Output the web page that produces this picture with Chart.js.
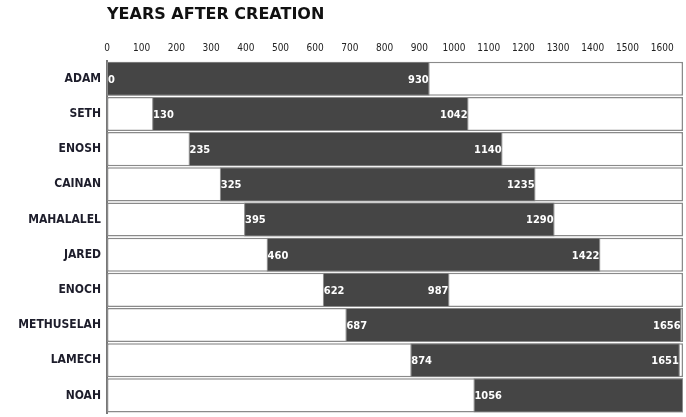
<!DOCTYPE html>
<html>
<head>
<meta charset="utf-8">
<script src="https://cdn.jsdelivr.net/npm/chart.js@4.4.1/dist/chart.umd.min.js"></script>
<style>
    html, body { margin: 0; padding: 0; background: #fff; overflow: hidden; }
    canvas { display: block; }
</style>
</head>
<body>
<canvas id="lifespanChart" width="686" height="417"></canvas>
<script>
// Patriarchs, birth and death in years after creation
const names = ['ADAM', 'SETH', 'ENOSH', 'CAINAN', 'MAHALALEL', 'JARED', 'ENOCH', 'METHUSELAH', 'LAMECH', 'NOAH'];
const births = [0, 130, 235, 325, 395, 460, 622, 687, 874, 1056];
const deaths = [930, 1042, 1140, 1235, 1290, 1422, 987, 1656, 1651, null];
const tickValues = [0, 100, 200, 300, 400, 500, 600, 700, 800, 900, 1000, 1100, 1200, 1300, 1400, 1500, 1600];
const axisMax = 1660;

const narrow = "'DejaVu Sans Condensed', 'Liberation Sans Narrow', 'DejaVu Sans', sans-serif";

document.addEventListener('DOMContentLoaded', function() {
    const ctx = document.getElementById('lifespanChart');

    // Noah runs off the right edge of the chart
    const spans = births.map((b, i) => [b, deaths[i] === null ? axisMax : deaths[i]]);
    const rows = names.map(() => [0, axisMax]);

    // Year numbers written inside the dark bars
    const barLabels = {
        id: 'barLabels',
        afterDatasetsDraw(chart) {
            const c = chart.ctx;
            const meta = chart.getDatasetMeta(0);
            const x = chart.scales.x;
            c.save();
            c.font = 'bold 11px ' + narrow;
            c.fillStyle = '#ffffff';
            c.textBaseline = 'middle';
            meta.data.forEach((bar, i) => {
                const y = bar.y + 1;
                c.textAlign = 'left';
                c.fillText(String(births[i]), x.getPixelForValue(births[i]) + 1, y);
                if (deaths[i] !== null) {
                    c.textAlign = 'right';
                    c.fillText(String(deaths[i]), x.getPixelForValue(deaths[i]) - 1, y);
                }
            });
            c.restore();
        }
    };

    new Chart(ctx, {
        type: 'bar',
        data: {
            labels: names,
            datasets: [{
                label: 'Lifespan',
                data: spans,
                backgroundColor: '#454545',
                borderColor: '#8a8a8a',
                borderWidth: 1,
                borderSkipped: false,
                grouped: false,
                barPercentage: 1,
                categoryPercentage: 0.97,
                order: 0
            }, {
                label: 'Row',
                data: rows,
                backgroundColor: '#ffffff',
                borderColor: '#8a8a8a',
                borderWidth: 1.5,
                borderSkipped: false,
                grouped: false,
                barPercentage: 1,
                categoryPercentage: 0.97,
                order: 1
            }]
        },
        options: {
            indexAxis: 'y',
            responsive: false,
            animation: false,
            devicePixelRatio: 1,
            layout: {
                padding: { left: 0, right: 3, top: 4, bottom: 4 }
            },
            plugins: {
                legend: { display: false },
                tooltip: { enabled: false },
                title: {
                    display: true,
                    text: 'YEARS AFTER CREATION',
                    align: 'start',
                    fullSize: false,
                    color: '#111',
                    font: { family: "'DejaVu Sans', sans-serif", size: 16, weight: 'bold' },
                    padding: { top: 1, bottom: 11 }
                }
            },
            scales: {
                x: {
                    position: 'top',
                    min: 0,
                    max: axisMax,
                    afterBuildTicks: function(scale) {
                        scale.ticks = tickValues.map(v => ({ value: v }));
                    },
                    grid: { display: false, drawTicks: false },
                    border: { display: false },
                    ticks: {
                        color: '#222',
                        padding: 7,
                        maxRotation: 0,
                        autoSkip: false,
                        callback: function(value) { return String(value); },
                        font: { family: narrow, size: 10 }
                    }
                },
                y: {
                    afterFit: function(scale) {
                        scale.width = 107;
                        scale.paddingTop = 0;
                        scale.paddingBottom = 0;
                    },
                    grid: { display: false, drawTicks: false },
                    border: { display: true, color: '#777', width: 2 },
                    ticks: {
                        color: '#1d1d2b',
                        padding: 6,
                        font: { family: narrow, size: 12, weight: 'bold' }
                    }
                }
            }
        },
        plugins: [barLabels]
    });
});
</script>
</body>
</html>
